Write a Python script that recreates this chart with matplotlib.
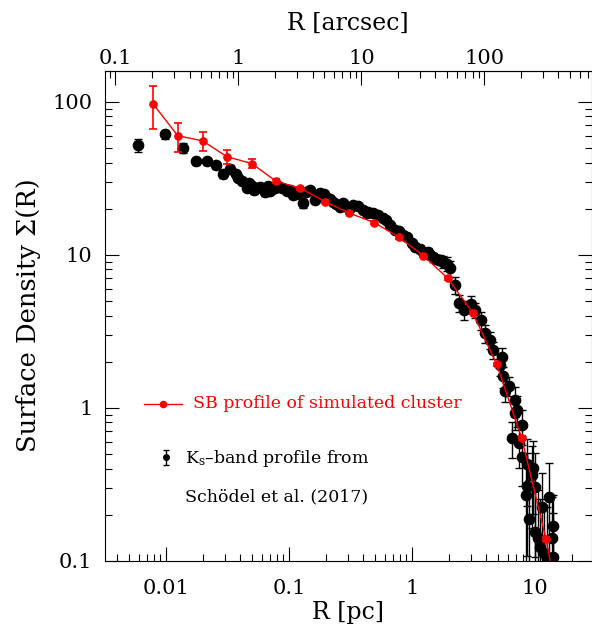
import numpy as np
import matplotlib
matplotlib.use("Agg")
import matplotlib.pyplot as plt
from matplotlib.ticker import FixedLocator, LogLocator, FuncFormatter, NullFormatter

plt.rcParams['font.family'] = ['DejaVu Serif']
plt.rcParams['mathtext.fontset'] = 'dejavuserif'

PC_PER_ARCSEC = 0.03879   # 8 kpc distance

# Ks-band profile (Schoedel et al. 2017), R in pc
r_obs = [0.0059, 0.0098, 0.0137, 0.0175, 0.0214, 0.0254, 0.0292, 0.0331, 0.0369, 0.0385,
         0.0412, 0.0453, 0.0473, 0.0497, 0.0519, 0.0546, 0.0581, 0.0638, 0.0679, 0.0701,
         0.0769, 0.0814, 0.0872, 0.0958, 0.1019, 0.1084, 0.114, 0.1228, 0.1292, 0.1375,
         0.1483, 0.1627, 0.172, 0.1787, 0.1926, 0.2026, 0.2155, 0.2293, 0.241, 0.2599,
         0.2748, 0.2944, 0.313, 0.3334, 0.364, 0.402, 0.4285, 0.4387, 0.4846, 0.5297,
         0.5845, 0.615, 0.6625, 0.727, 0.784, 0.850, 0.906, 0.994, 1.058, 1.161,
         1.236, 1.349, 1.40, 1.49, 1.567, 1.689, 1.796, 1.926, 2.037, 2.237,
         2.424, 2.648, 3.0, 3.25, 3.62, 3.92, 4.31, 4.58, 5.19, 5.36,
         5.53, 5.70, 6.18, 6.47, 6.88, 6.88, 7.18, 7.45, 7.80, 7.80,
         8.45, 8.56, 8.66, 8.94, 9.40, 9.69, 10.0, 10.0, 10.64, 10.98,
         11.3, 11.83, 12.45, 13.07, 13.68, 13.93, 14.08]
s_obs = [52.1, 61.2, 50.0, 40.8, 40.8, 38.4, 33.8, 36.3, 33.5, 31.7,
         30.3, 27.4, 29.4, 28.1, 26.5, 27.2, 27.7, 25.6, 28.0, 26.1,
         27.4, 28.1, 27.2, 26.1, 26.5, 24.5, 24.9, 25.8, 21.7, 25.7,
         26.5, 22.8, 24.2, 25.2, 24.9, 23.4, 23.1, 22.2, 21.4, 20.5,
         21.8, 20.6, 20.2, 21.1, 20.8, 19.6, 18.6, 19.0, 18.6, 18.2,
         17.3, 16.9, 15.6, 14.5, 14.3, 13.45, 13.1, 11.9, 11.3, 10.9,
         10.47, 10.4, 9.95, 9.62, 9.37, 9.23, 9.0, 8.69, 8.15, 6.34,
         4.85, 4.35, 4.76, 4.35, 3.74, 3.06, 2.77, 2.38, 1.90, 2.15,
         1.60, 1.285, 1.386, 0.637, 1.12, 0.918, 0.966, 0.585, 0.771, 0.479,
         0.267, 0.308, 0.428, 0.187, 0.363, 0.402, 0.305, 0.155, 0.14, 0.1235,
         0.225, 0.1117, 0.1037, 0.262, 0.14, 0.106, 0.169]
s_obs_err = [5.0, 4.5, 4.0, 2.0, 2.0, 2.0, 2.0, 2.0, 1.8, 1.6,
             1.5, 1.5, 1.5, 1.5, 1.5, 1.5, 1.4, 1.4, 1.4, 1.3,
             1.2, 1.2, 1.2, 1.2, 1.2, 1.2, 1.2, 1.2, 1.5, 1.0,
             1.0, 1.0, 1.0, 1.0, 1.0, 1.0, 1.0, 1.0, 0.9, 0.8,
             0.8, 0.8, 0.8, 0.8, 0.8, 0.8, 0.8, 0.8, 0.8, 0.7,
             0.7, 0.7, 0.7, 0.6, 0.6, 0.6, 0.6, 0.6, 0.6, 0.6,
             0.6, 0.6, 0.6, 0.6, 0.6, 0.7, 0.8, 0.9, 1.0, 0.8,
             0.6, 0.6, 0.6, 0.5, 0.5, 0.4, 0.35, 0.3, 0.3, 0.3,
             0.25, 0.2, 0.2, 0.17, 0.25, 0.2, 0.22, 0.18, 0.2, 0.17,
             0.17, 0.2, 0.2, 0.15, 0.2, 0.2, 0.2, 0.15, 0.15, 0.13,
             0.15, 0.12, 0.12, 0.17, 0.12, 0.1, 0.1]

# SB profile of the simulated cluster
r_sim = [0.00788, 0.01245, 0.01988, 0.03115, 0.04973, 0.0784, 0.1236, 0.1969, 0.309,
         0.493, 0.784, 1.236, 1.95, 3.115, 4.88, 7.80, 12.28, 19.4]
s_sim = [96.2, 59.9, 55.4, 43.7, 39.4, 30.2, 27.2, 22.2, 18.7,
         16.2, 13.0, 9.85, 7.01, 4.18, 1.916, 0.631, 0.1386, 0.02]
s_sim_err = [30, 13, 8, 4.5, 2.5, 1.0, 0.6, 0.5, 0.4,
             0.3, 0.25, 0.2, 0.15, 0.1, 0.05, 0.02, 0.005, 0.001]

xticks_pc = [0.01, 0.1, 1, 10]
xticks_arcsec = [0.1, 1, 10, 100]
yticks = [0.1, 1, 10, 100]

fig = plt.figure(figsize=(5.92, 6.28), dpi=100)
ax = fig.add_axes([0.1774, 0.1072, 0.8218, 0.7803])
ax.set_xscale('log')
ax.set_yscale('log')

ax.errorbar(r_obs, s_obs, yerr=s_obs_err, fmt='o', color='black', ms=7.4,
            capsize=2.8, elinewidth=1, capthick=1, zorder=2)
ax.errorbar(r_sim, s_sim, yerr=s_sim_err, fmt='-o', color='red', ms=5.2, lw=1,
            capsize=2.8, elinewidth=1.2, capthick=1.2, zorder=3)

ax.set_xlim(0.00319, 28.8)
ax.set_ylim(0.1, 159.4)

fmt = FuncFormatter(lambda v, p: '%g' % v)
ax.xaxis.set_major_locator(FixedLocator(xticks_pc))
ax.xaxis.set_major_formatter(fmt)
ax.xaxis.set_minor_locator(LogLocator(base=10, subs=np.arange(2, 10)))
ax.xaxis.set_minor_formatter(NullFormatter())
ax.yaxis.set_major_locator(FixedLocator(yticks))
ax.yaxis.set_major_formatter(fmt)
ax.yaxis.set_minor_locator(LogLocator(base=10, subs=np.arange(2, 10)))
ax.yaxis.set_minor_formatter(NullFormatter())

ax.tick_params(which='both', direction='in', top=False, right=True, width=0.8)
ax.tick_params(which='major', length=10, labelsize=15)
ax.tick_params(which='minor', length=5)
ax.tick_params(axis='x', which='both', pad=13)
ax.tick_params(axis='y', which='both', pad=9)
for s in ax.spines.values():
    s.set_linewidth(0.8)

sec = ax.secondary_xaxis('top', functions=(lambda r: r / PC_PER_ARCSEC,
                                           lambda a: a * PC_PER_ARCSEC))
sec.xaxis.set_major_locator(FixedLocator(xticks_arcsec))
sec.xaxis.set_major_formatter(fmt)
sec.xaxis.set_minor_locator(LogLocator(base=10, subs=np.arange(2, 10)))
sec.xaxis.set_minor_formatter(NullFormatter())
sec.tick_params(which='both', direction='in', width=0.8, pad=2)
sec.tick_params(which='major', length=10, labelsize=15)
sec.tick_params(which='minor', length=5)
sec.set_xlabel('R [arcsec]', fontsize=17, labelpad=14)

ax.set_xlabel('R [pc]', fontsize=17, labelpad=2)
ax.set_ylabel('Surface Density \u03a3(R)', fontsize=18.5, labelpad=8)

# legend drawn by hand
ax.plot([0.080, 0.159], [0.320, 0.320], color='red', lw=1, transform=ax.transAxes)
ax.plot([0.1184], [0.320], 'o', color='red', ms=4.5, transform=ax.transAxes)
ax.text(0.180, 0.320, 'SB profile of simulated cluster', color='red', fontsize=12.5,
        va='center', ha='left', transform=ax.transAxes)
ax.errorbar([0.1248], [0.211], yerr=[0.0153], fmt='o', color='black', ms=4,
            capsize=2.5, elinewidth=1, transform=ax.transAxes)
ax.text(0.1644, 0.208, 'K$_{\\rm s}$\u2013band profile from', color='black', fontsize=12.5,
        va='center', ha='left', transform=ax.transAxes)
ax.text(0.1644, 0.1306, 'Sch\u00f6del et al. (2017)', color='black', fontsize=12.5,
        va='center', ha='left', transform=ax.transAxes)

fig.savefig('out.png', dpi=100)
